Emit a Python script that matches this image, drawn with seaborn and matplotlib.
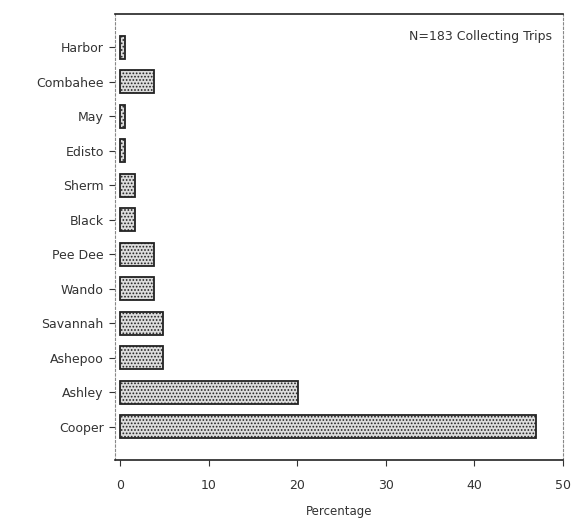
import numpy as np
import pandas as pd
import seaborn as sns
import matplotlib.pyplot as plt

rivers = ['Harbor', 'Combahee', 'May', 'Edisto', 'Sherm', 'Black', 'Pee Dee',
          'Wando', 'Savannah', 'Ashepoo', 'Ashley', 'Cooper']
percentages = [0.6, 3.8, 0.6, 0.6, 1.7, 1.7, 3.8, 3.8, 4.9, 4.9, 20.1, 47.0]
x_ticks = [0, 10, 20, 30, 40, 50]
note = 'N=183 Collecting Trips'

df = pd.DataFrame({'river': rivers, 'pct': percentages})

sns.set_style('ticks')
plt.rcParams['font.family'] = ['DejaVu Sans']
plt.rcParams['hatch.linewidth'] = 0.8

fig = plt.figure(figsize=(5.71, 5.22), dpi=100)
ax = fig.add_axes([0.201, 0.119, 0.785, 0.854])

sns.barplot(data=df, x='pct', y='river', order=rivers, orient='h', ax=ax,
            color='#dcdcdc', edgecolor='#222222', linewidth=1.3,
            hatch='.....', width=0.66, saturation=1)

ax.set_xlim(-0.6, 50)
ax.set_ylim(11.96, -0.96)
ax.set_xticks(x_ticks)
ax.set_xlabel('Percentage', fontsize=8.5, color='#333333', labelpad=9)
ax.set_ylabel('')
ax.tick_params(axis='both', labelsize=9, colors='#333333', length=4, width=0.8)
ax.tick_params(axis='x', pad=10)
ax.tick_params(axis='y', pad=4)

for side in ['top', 'bottom']:
    ax.spines[side].set_color('#222222')
    ax.spines[side].set_linewidth(1.2)
for side in ['left', 'right']:
    ax.spines[side].set_color('#888888')
    ax.spines[side].set_linewidth(0.8)
    ax.spines[side].set_linestyle((0, (2, 2)))

ax.text(0.975, 0.965, note, transform=ax.transAxes, ha='right', va='top',
        fontsize=9, color='#333333')

fig.savefig('out.png', dpi=100)
